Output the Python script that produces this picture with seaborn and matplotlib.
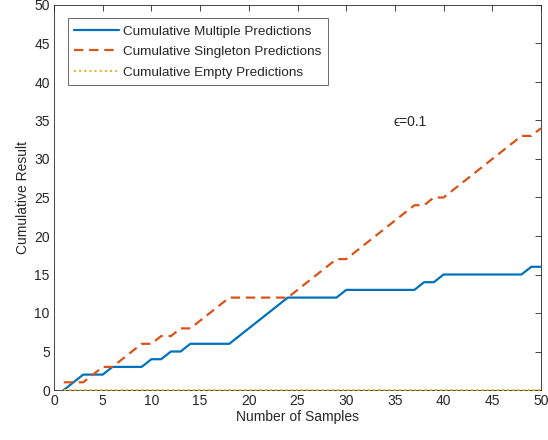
import numpy as np
import pandas as pd
from matplotlib import pyplot as plt
import seaborn as sns

# samples 1..50 and cumulative counts
samples = list(range(1, 51))
multiple = [0, 1, 2, 2, 2, 3, 3, 3, 3, 4,
            4, 5, 5, 6, 6, 6, 6, 6, 7, 8,
            9, 10, 11, 12, 12, 12, 12, 12, 12, 13,
            13, 13, 13, 13, 13, 13, 13, 14, 14, 15,
            15, 15, 15, 15, 15, 15, 15, 15, 16, 16]
singleton = [1, 1, 1, 2, 3, 3, 4, 5, 6, 6,
             7, 7, 8, 8, 9, 10, 11, 12, 12, 12,
             12, 12, 12, 12, 13, 14, 15, 16, 17, 17,
             18, 19, 20, 21, 22, 23, 24, 24, 25, 25,
             26, 27, 28, 29, 30, 31, 32, 33, 33, 34]
empty = [0] * 50

labels = ['Cumulative Multiple Predictions',
          'Cumulative Singleton Predictions',
          'Cumulative Empty Predictions']

df = pd.DataFrame({'samples': samples, labels[0]: multiple,
                   labels[1]: singleton, labels[2]: empty})

sns.set_style('white')
plt.rcParams['font.family'] = ['Liberation Sans', 'DejaVu Sans']

fig, ax = plt.subplots(figsize=(5.48, 4.40), dpi=100)
fig.subplots_adjust(left=54/548, right=541/548, top=1-5/440, bottom=1-390/440)

sns.lineplot(data=df, x='samples', y=labels[0], ax=ax, color='#0072BD',
             linewidth=1.6, label=labels[0])
sns.lineplot(data=df, x='samples', y=labels[1], ax=ax, color='#D95319',
             linewidth=1.6, dashes=(4.2, 2.6), label=labels[1])
sns.lineplot(data=df, x='samples', y=labels[2], ax=ax, color='#EDB120',
             linewidth=1.4, linestyle=':', label=labels[2])
for ln in ax.lines:
    ln.set_zorder(5)
    ln.set_clip_on(False)

ax.set_xlim(0, 50)
ax.set_ylim(0, 50)
ax.set_xticks(np.arange(0, 51, 5))
ax.set_yticks(np.arange(0, 51, 5))
ax.tick_params(direction='in', top=True, right=True, length=4, width=0.6,
               labelsize=10, colors='#262626', pad=3)
for s in ax.spines.values():
    s.set_color('#262626')
    s.set_linewidth(0.6)

ax.set_xlabel('Number of Samples', fontsize=10, color='#262626', labelpad=1)
ax.set_ylabel('Cumulative Result', fontsize=10, color='#262626', labelpad=3)
ax.text(34.9, 34.8, '\u03f5=0.1', fontsize=10, color='#262626', va='center',
        family=['Liberation Sans', 'DejaVu Sans'])

leg = ax.legend(loc='upper left', bbox_to_anchor=(0.028, 0.965), fontsize=9.7,
                frameon=True, fancybox=False, borderpad=0.5, labelspacing=0.6,
                handlelength=3.3, handletextpad=0.3, borderaxespad=0)
leg.get_frame().set_edgecolor('#262626')
leg.get_frame().set_linewidth(0.6)

plt.savefig('out.png', dpi=100)
